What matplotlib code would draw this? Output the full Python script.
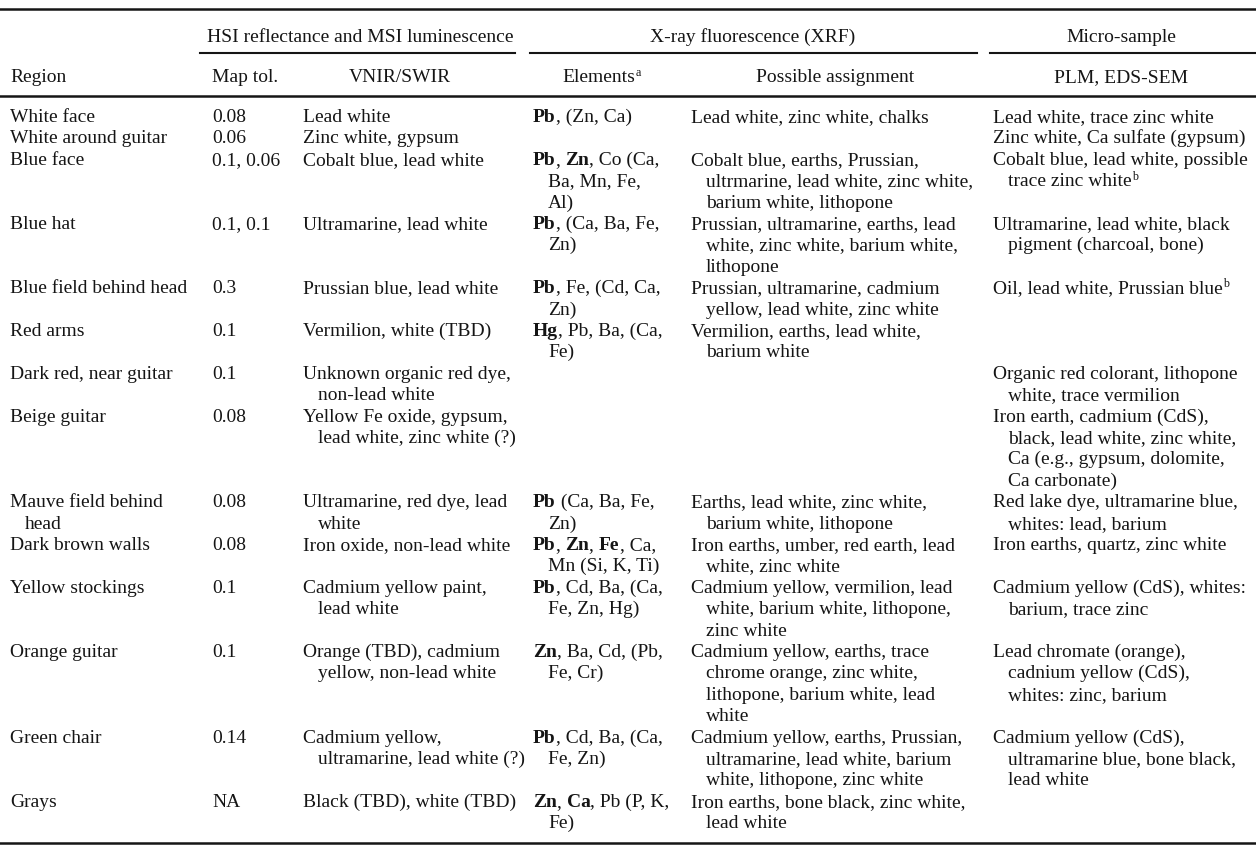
import matplotlib.pyplot as plt

# table content, one entry per row; "**" marks bold, "^" a superscript char
regions = [["White face"], ["White around guitar"], ["Blue face"], ["Blue hat"],
           ["Blue field behind head"], ["Red arms"], ["Dark red, near guitar"],
           ["Beige guitar"], ["Mauve field behind", "  head"], ["Dark brown walls"],
           ["Yellow stockings"], ["Orange guitar"], ["Green chair"], ["Grays"]]
map_tol = ["0.08", "0.06", "0.1, 0.06", "0.1, 0.1", "0.3", "0.1", "0.1", "0.08",
           "0.08", "0.08", "0.1", "0.1", "0.14", "NA"]
vnir = [["Lead white"],
        ["Zinc white, gypsum"],
        ["Cobalt blue, lead white"],
        ["Ultramarine, lead white"],
        ["Prussian blue, lead white"],
        ["Vermilion, white (TBD)"],
        ["Unknown organic red dye,", "non-lead white"],
        ["Yellow Fe oxide, gypsum,", "lead white, zinc white (?)"],
        ["Ultramarine, red dye, lead", "white"],
        ["Iron oxide, non-lead white"],
        ["Cadmium yellow paint,", "lead white"],
        ["Orange (TBD), cadmium", "yellow, non-lead white"],
        ["Cadmium yellow,", "ultramarine, lead white (?)"],
        ["Black (TBD), white (TBD)"]]
elements = [["**Pb**, (Zn, Ca)"],
            [],
            ["**Pb**, **Zn**, Co (Ca,", "Ba, Mn, Fe,", "Al)"],
            ["**Pb**, (Ca, Ba, Fe,", "Zn)"],
            ["**Pb**, Fe, (Cd, Ca,", "Zn)"],
            ["**Hg**, Pb, Ba, (Ca,", "Fe)"],
            [],
            [],
            ["**Pb** (Ca, Ba, Fe,", "Zn)"],
            ["**Pb**, **Zn**, **Fe**, Ca,", "Mn (Si, K, Ti)"],
            ["**Pb**, Cd, Ba, (Ca,", "Fe, Zn, Hg)"],
            ["**Zn**, Ba, Cd, (Pb,", "Fe, Cr)"],
            ["**Pb**, Cd, Ba, (Ca,", "Fe, Zn)"],
            ["**Zn**, **Ca**, Pb (P, K,", "Fe)"]]
assignment = [["Lead white, zinc white, chalks"],
              [],
              ["Cobalt blue, earths, Prussian,", "ultrmarine, lead white, zinc white,",
               "barium white, lithopone"],
              ["Prussian, ultramarine, earths, lead", "white, zinc white, barium white,",
               "lithopone"],
              ["Prussian, ultramarine, cadmium", "yellow, lead white, zinc white"],
              ["Vermilion, earths, lead white,", "barium white"],
              [],
              [],
              ["Earths, lead white, zinc white,", "barium white, lithopone"],
              ["Iron earths, umber, red earth, lead", "white, zinc white"],
              ["Cadmium yellow, vermilion, lead", "white, barium white, lithopone,",
               "zinc white"],
              ["Cadmium yellow, earths, trace", "chrome orange, zinc white,",
               "lithopone, barium white, lead", "white"],
              ["Cadmium yellow, earths, Prussian,", "ultramarine, lead white, barium",
               "white, lithopone, zinc white"],
              ["Iron earths, bone black, zinc white,", "lead white"]]
micro = [["Lead white, trace zinc white"],
         ["Zinc white, Ca sulfate (gypsum)"],
         ["Cobalt blue, lead white, possible", "trace zinc white^b"],
         ["Ultramarine, lead white, black", "pigment (charcoal, bone)"],
         ["Oil, lead white, Prussian blue^b"],
         [],
         ["Organic red colorant, lithopone", "white, trace vermilion"],
         ["Iron earth, cadmium (CdS),", "black, lead white, zinc white,",
          "Ca (e.g., gypsum, dolomite,", "Ca carbonate)"],
         ["Red lake dye, ultramarine blue,", "whites: lead, barium"],
         ["Iron earths, quartz, zinc white"],
         ["Cadmium yellow (CdS), whites:", "barium, trace zinc"],
         ["Lead chromate (orange),", "cadnium yellow (CdS),", "whites: zinc, barium"],
         ["Cadmium yellow (CdS),", "ultramarine blue, bone black,", "lead white"],
         []]

group_heads = ["HSI reflectance and MSI luminescence", "X-ray fluorescence (XRF)",
               "Micro-sample"]
col_heads = ["Region", "Map tol.", "VNIR/SWIR", "Elements^a", "Possible assignment",
             "PLM, EDS-SEM"]

plt.rcParams['font.family'] = ['Liberation Serif', 'DejaVu Serif']
FS = 14
INK = '#151515'

fig = plt.figure(figsize=(12.56, 8.48), dpi=100)
ax = fig.add_axes([0, 0, 1, 1])
ax.set_xlim(0, 1256)
ax.set_ylim(848, 0)
ax.axis('off')
renderer = fig.canvas.get_renderer()


def draw_rich(x, y, s, ha='left'):
    # split into (text, bold, sup) pieces and lay them out left to right
    pieces = []
    for i, part in enumerate(s.split('**')):
        bold = i % 2 == 1
        bits = part.split('^')
        pieces.append((bits[0], bold, False))
        for b in bits[1:]:
            pieces.append((b[:1], bold, True))
            pieces.append((b[1:], bold, False))
    pieces = [p for p in pieces if p[0]]
    arts = []
    cx = x
    for txt, bold, sup in pieces:
        size = FS * 0.62 if sup else FS
        weight = 'bold' if bold else 'normal'
        t = ax.text(cx, y - (6.5 if sup else 0), txt, fontsize=size,
                    fontweight=weight, color=INK, ha='left', va='baseline')
        # measure with hard spaces so leading/trailing blanks count
        m = ax.text(0, 0, txt.replace(' ', '\u00a0'), fontsize=size, fontweight=weight)
        w = m.get_window_extent(renderer).width
        m.remove()
        arts.append((t, cx - x))
        cx += w + (1 if sup else 0)
    total = cx - x
    if ha == 'center':
        for t, off in arts:
            t.set_x(x - total / 2 + off)
    return total


# rules
ax.plot([0, 1256], [9, 9], color=INK, lw=1.8)
ax.plot([0, 1256], [95.5, 95.5], color=INK, lw=1.8)
ax.plot([0, 1256], [843, 843], color=INK, lw=1.8)
for x0, x1 in [(200, 515), (530, 977), (990, 1256)]:
    ax.plot([x0, x1], [52.5, 52.5], color=INK, lw=1.5)

# headers
for cx, s in zip([360, 753, 1121], group_heads):
    draw_rich(cx, 42, s, ha='center')
draw_rich(10, 82, col_heads[0])
draw_rich(212, 82, col_heads[1])
for cx, s in zip([400, 602, 835, 1121], col_heads[2:]):
    draw_rich(cx, 82, s, ha='center')

# body
col_x = [10, 212, 303, 533, 691, 993]
line_h = 21.4
indent = 15
y = 122
for i in range(len(regions)):
    cells = [regions[i], [map_tol[i]], vnir[i], elements[i], assignment[i], micro[i]]
    for cx, cell in zip(col_x, cells):
        for k, line in enumerate(cell):
            line = line.strip()
            draw_rich(cx + (indent if k > 0 else 0), y + k * line_h, line)
    y += line_h * max(len(c) for c in cells)

fig.savefig('out.png', dpi=100, facecolor='white')
